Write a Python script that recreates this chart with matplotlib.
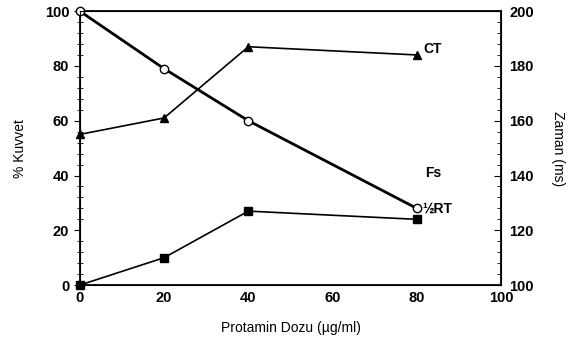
import matplotlib
matplotlib.use("Agg")
import matplotlib.pyplot as plt
from matplotlib.ticker import MultipleLocator

plt.rcParams['font.family'] = ['Liberation Sans', 'DejaVu Sans']

doses = [0, 20, 40, 80]
fs_values = [100, 79, 60, 28]
ct_values = [55, 61, 87, 84]
rt_values = [0, 10, 27, 24]

fig = plt.figure(figsize=(5.74, 3.37), dpi=100)
ax = fig.add_axes([0.139, 0.154, 0.734, 0.813])

ax.plot(doses, fs_values, color='black', lw=2.0, marker='o', mfc='white', mec='black', ms=6, mew=1.0, zorder=3, clip_on=False)
ax.plot(doses, ct_values, color='black', lw=1.2, marker='^', ms=5.5, zorder=3, clip_on=False)
ax.plot(doses, rt_values, color='black', lw=1.2, marker='s', ms=5.5, zorder=3, clip_on=False)

ax.set_xlim(0, 100)
ax.set_ylim(0, 100)
ax.xaxis.set_major_locator(MultipleLocator(20))
ax.yaxis.set_major_locator(MultipleLocator(20))
ax.yaxis.set_minor_locator(MultipleLocator(4))
ax.tick_params(axis='x', length=0, pad=4, labelsize=10.5)
ax.tick_params(axis='y', which='major', direction='out', length=4, labelsize=10.5)
ax.tick_params(axis='y', which='minor', direction='inout', length=4)
for lab in ax.get_xticklabels() + ax.get_yticklabels():
    lab.set_fontweight('bold')
for s in ax.spines.values():
    s.set_linewidth(1.3)

ax.set_xlabel('Protamin Dozu (µg/ml)', fontsize=10, labelpad=12)
ax.set_ylabel('% Kuvvet', fontsize=10, labelpad=13)

ax2 = ax.twinx()
ax2.set_ylim(100, 200)
ax2.yaxis.set_major_locator(MultipleLocator(20))
ax2.yaxis.set_minor_locator(MultipleLocator(4))
ax2.tick_params(axis='y', which='major', direction='in', length=5, labelsize=10.5, pad=6)
ax2.tick_params(axis='y', which='minor', direction='in', length=3)
for lab in ax2.get_yticklabels():
    lab.set_fontweight('bold')
ax2.set_ylabel('Zaman (ms)', fontsize=10, rotation=270, labelpad=22)

ax.text(81.5, 86, 'CT', fontsize=10, fontweight='bold', va='center', ha='left')
ax.text(82, 41, 'Fs', fontsize=10, fontweight='bold', va='center', ha='left')
ax.text(81.2, 28, '½RT', fontsize=10, fontweight='bold', va='center', ha='left')

fig.savefig('out.png', dpi=100)
